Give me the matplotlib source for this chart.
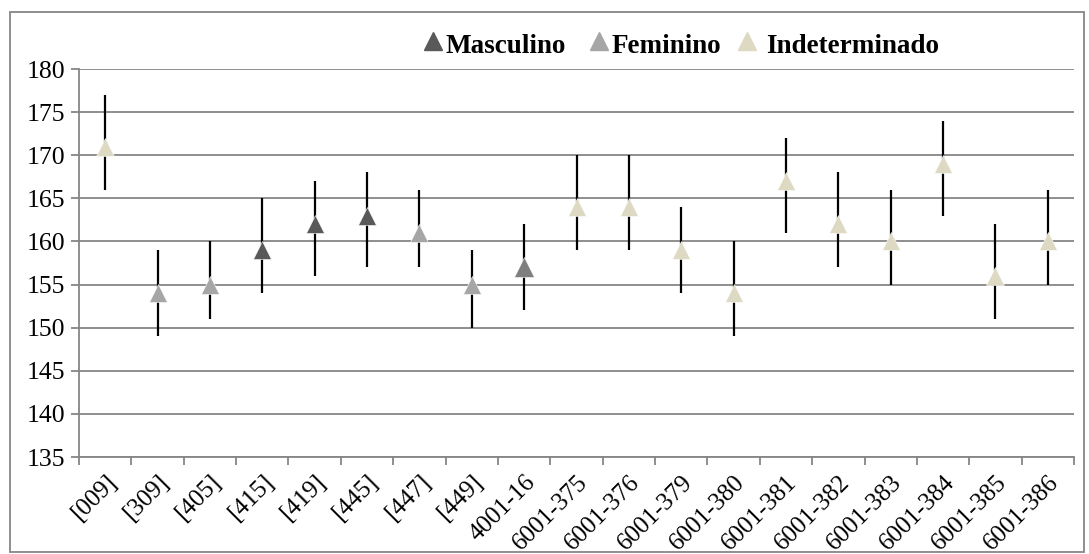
import matplotlib
matplotlib.use("Agg")
import matplotlib.pyplot as plt
from matplotlib.lines import Line2D
from matplotlib.patches import Rectangle
import numpy as np

categories = ["[009]", "[309]", "[405]", "[415]", "[419]", "[445]", "[447]", "[449]",
              "4001-16", "6001-375", "6001-376", "6001-379", "6001-380", "6001-381",
              "6001-382", "6001-383", "6001-384", "6001-385", "6001-386"]
values = [171, 154, 155, 159, 162, 163, 161, 155, 157, 164, 164, 159, 154, 167, 162, 160, 169, 156, 160]
low = [166, 149, 151, 154, 156, 157, 157, 150, 152, 159, 159, 154, 149, 161, 157, 155, 163, 151, 155]
high = [177, 159, 160, 165, 167, 168, 166, 159, 162, 170, 170, 164, 160, 172, 168, 166, 174, 162, 166]
groups = ["Indeterminado", "Feminino", "Feminino", "Masculino", "Masculino", "Masculino",
          "Feminino", "Feminino", "Masculino?", "Indeterminado", "Indeterminado",
          "Indeterminado", "Indeterminado", "Indeterminado", "Indeterminado",
          "Indeterminado", "Indeterminado", "Indeterminado", "Indeterminado"]
legend_names = ["Masculino", "Feminino", "Indeterminado"]

colors = {"Masculino": "#595959", "Feminino": "#a6a6a6", "Indeterminado": "#ddd9c3",
          "Masculino?": "#7f7f7f"}
msizes = {"Masculino": 13, "Feminino": 13, "Indeterminado": 13, "Masculino?": 14.5}

plt.rcParams['font.family'] = ['Liberation Serif', 'DejaVu Serif']

W, H = 1089, 554
fig = plt.figure(figsize=(W / 100, H / 100), dpi=100)
ax = fig.add_axes([79 / W, 1 - 457 / H, (1074 - 79) / W, (457 - 69) / H])

grid_c = "#868686"
fig.patches.append(Rectangle((10 / W, 1 - 552 / H), (1084 - 10) / W, (552 - 12) / H,
                             transform=fig.transFigure, fill=False,
                             edgecolor=grid_c, linewidth=1.3))

x = np.arange(len(categories))
v = np.array(values)
lo = v - np.array(low)
hi = np.array(high) - v
ax.errorbar(x, v, yerr=[lo, hi], fmt="none", ecolor="black", elinewidth=1.6,
            capsize=0, zorder=3)
for xi, vi, g in zip(x, v, groups):
    ax.plot([xi], [vi], marker="^", linestyle="none", markersize=msizes[g],
            markerfacecolor=colors[g], markeredgecolor="white", markeredgewidth=0.4,
            zorder=4)

ax.set_xlim(-0.5, len(categories) - 0.5)
ax.set_ylim(135, 180)
ax.set_yticks(np.arange(135, 181, 5))
ax.yaxis.grid(True, color=grid_c, linewidth=1.3)
ax.set_axisbelow(True)

ax.set_xticks(np.arange(-0.5, len(categories), 1.0))
ax.set_xticklabels([])
ax.set_xticks(x, minor=True)
ax.set_xticklabels(categories, minor=True, rotation=45, ha="right",
                   rotation_mode="anchor", fontsize=18)
ax.tick_params(axis="x", which="minor", length=0, pad=10)
ax.tick_params(axis="x", which="major", length=6, width=1.3, color=grid_c, direction="out")
ax.tick_params(axis="y", length=6, width=1.3, color=grid_c, labelsize=18.5, pad=4)

for s in ["top", "right"]:
    ax.spines[s].set_visible(False)
for s in ["left", "bottom"]:
    ax.spines[s].set_color(grid_c)
    ax.spines[s].set_linewidth(1.3)

# legend drawn manually in figure coordinates
leg_items = [(433, 445), (599, 612), (747, 766)]
for name, (mx, tx) in zip(legend_names, leg_items):
    fig.add_artist(Line2D([mx / W], [1 - 41 / H], marker="^", linestyle="none",
                          markersize=13, markerfacecolor=colors[name],
                          markeredgecolor=colors[name], transform=fig.transFigure))
    fig.text(tx / W, 1 - 53 / H, name, fontsize=19.5, fontweight="bold",
             ha="left", va="baseline")

fig.savefig("out.png", dpi=100)
